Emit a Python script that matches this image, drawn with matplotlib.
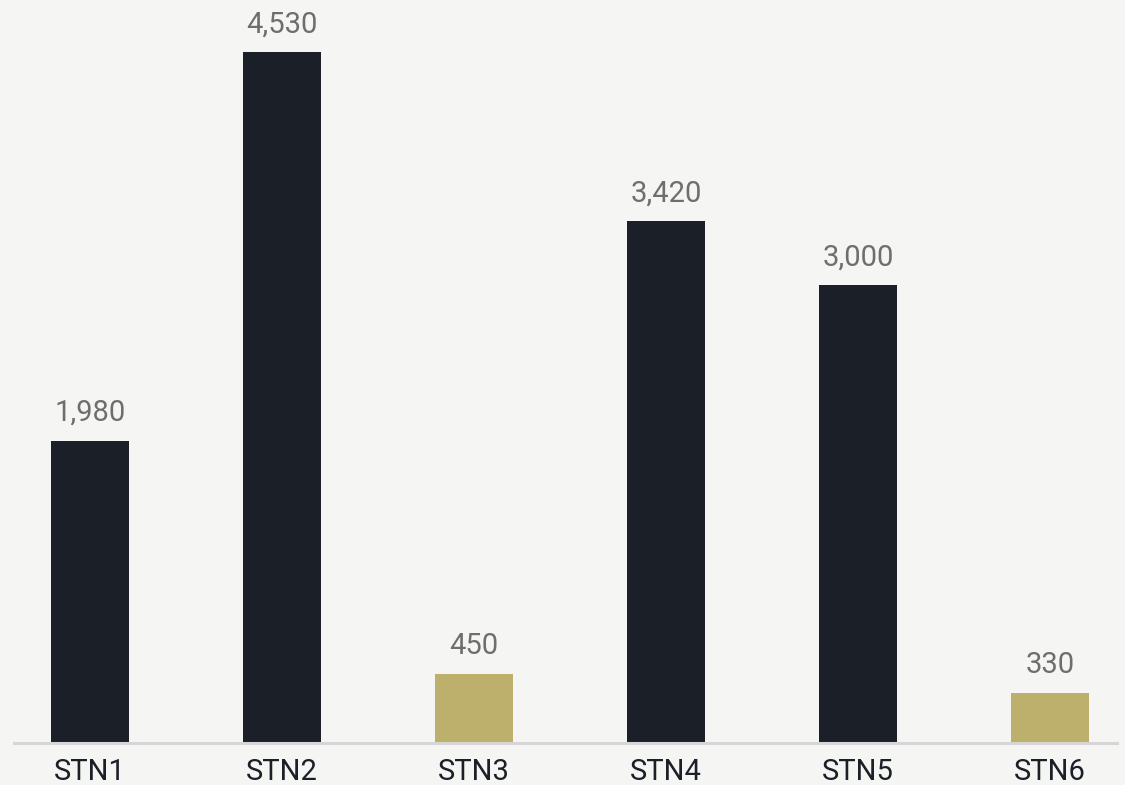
import matplotlib
matplotlib.use("Agg")
import matplotlib.pyplot as plt

stations = ["STN1", "STN2", "STN3", "STN4", "STN5", "STN6"]
values = [1980, 4530, 450, 3420, 3000, 330]
highlight = [False, False, True, False, False, True]

DARK = "#1b2028"
GOLD = "#bdb06c"
BG = "#f5f5f3"

fig = plt.figure(figsize=(11.25, 7.85), dpi=100, facecolor=BG)
ax = fig.add_axes([14/1125, (785-743)/785, 1103/1125, 743/785])
ax.set_facecolor(BG)

x = list(range(len(stations)))
colors = [GOLD if h else DARK for h in highlight]
ax.bar(x, values, width=0.41, color=colors, zorder=2)

for xi, v in zip(x, values):
    ax.annotate(f"{v:,}", (xi, v), xytext=(0, 10), textcoords="offset points",
                ha="center", va="bottom", fontsize=21, color="#6e6e6e",
                family="Roboto")

ax.set_xlim(-76/192, -76/192 + 1103/192)
ax.set_ylim(0, 743 / (691/4530))
ax.set_xticks(x)
ax.set_xticklabels(stations, fontsize=21, color=DARK, family="Roboto")
ax.tick_params(axis="x", length=0, pad=11)
ax.set_yticks([])
for s in ["left", "right", "top"]:
    ax.spines[s].set_visible(False)
ax.spines["bottom"].set_color("#d6d6d6")
ax.spines["bottom"].set_linewidth(2.2)
ax.spines["bottom"].set_zorder(3)

fig.savefig("out.png", dpi=100, facecolor=BG)
